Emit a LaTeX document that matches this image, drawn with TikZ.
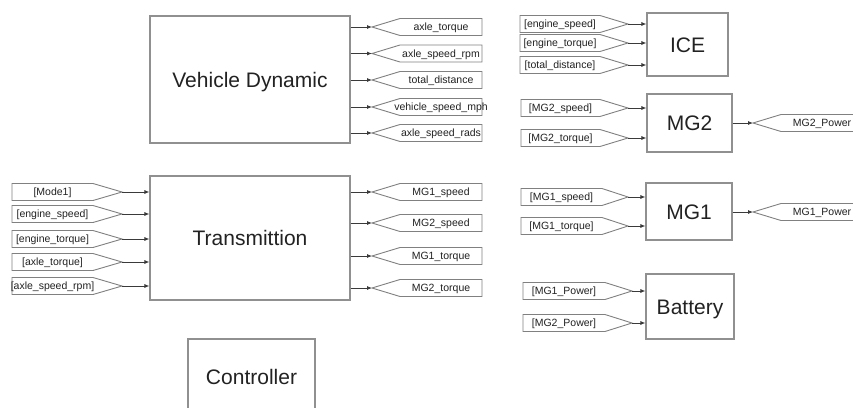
\documentclass[tikz,border=0pt]{standalone}
\usepackage{fontspec}
\setmainfont{Liberation Sans}
\usetikzlibrary{arrows.meta}

\definecolor{boxline}{HTML}{909090}
\definecolor{tagline}{HTML}{808080}
\definecolor{wire}{HTML}{3A3A3A}
\definecolor{ink}{HTML}{222222}

\tikzset{
  block/.style={draw=boxline, line width=1.1pt, fill=white, inner sep=0pt,
    font=\fontsize{21}{25}\selectfont, text=ink, text height=15pt, text depth=0pt},
  tagshape/.style={draw=tagline, line width=0.9pt, fill=white, line join=miter},
  taglabel/.style={inner sep=0pt, font=\fontsize{10.5}{12}\selectfont, text=ink,
    text height=7.5pt, text depth=0pt},
  sig/.style={draw=wire, line width=0.8pt, -{Latex[length=5pt,width=4pt]}},
}

% Goto tag: pointed end on the left at (#3,#4); coordinate #2 marks the tip
\newcommand\gototag[5][110]{%
  \draw[tagshape] (#3,#4) -- ++(28,-8.5) -- (#3+#1,#4-8.5) -- (#3+#1,#4+8.5)
    -- (#3+28,#4+8.5) -- cycle;
  \node[taglabel] (#2-text) at ({#3+28+(#1-28)/2},#4) {#5};
  \coordinate (#2) at (#3,#4);
}
% From tag: box from #2 to #3, pointed end at #4; coordinate #1 marks the tip
\newcommand\fromtag[6]{%
  \draw[tagshape] (#2,#6-8.5) -- (#3,#6-8.5) -- (#4,#6) -- (#3,#6+8.5)
    -- (#2,#6+8.5) -- cycle;
  \node[taglabel] (#1-text) at ({(#2+#3)/2},#6) {#5};
  \coordinate (#1) at (#4,#6);
}

\begin{document}
\begin{tikzpicture}[x=1pt,y=-1pt]
\useasboundingbox (0,0) rectangle (853,407);
\fill[white] (0,0) rectangle (853,407);
\clip (0,0) rectangle (853,407);

% ---------- main blocks ----------
\node[block, minimum width=200pt, minimum height=127pt] (vd) at (250,79.5) {Vehicle Dynamic};
\node[block, minimum width=200pt, minimum height=124pt] (tr) at (250,238) {Transmittion};
\node[block, minimum width=127pt, minimum height=76pt] (ctl) at (251.5,377) {Controller};
\node[block, minimum width=81pt, minimum height=63pt] (ice) at (687.5,44.5) {ICE};
\node[block, minimum width=85pt, minimum height=58pt] (mg2) at (689.5,123) {MG2};
\node[block, minimum width=86pt, minimum height=57pt] (mg1) at (689,211.5) {MG1};
\node[block, minimum width=88pt, minimum height=65pt] (bat) at (690,306.5) {Battery};

% ---------- Vehicle Dynamic outputs ----------
\gototag{g-at}{372}{27}{axle\_torque}
\gototag{g-asr}{372}{53.5}{axle\_speed\_rpm}
\gototag{g-td}{372}{80}{total\_distance}
\gototag{g-vsm}{372}{107}{vehicle\_speed\_mph}
\gototag{g-asd}{372}{133}{axle\_speed\_rads}
\foreach \t in {g-at,g-asr,g-td,g-vsm,g-asd}
  \draw[sig] (vd.east |- \t) -- (\t);

% ---------- Transmittion inputs ----------
\fromtag{f-mode}{12}{93}{122}{[Mode1]}{192}
\fromtag{f-es}{12}{93}{122}{[engine\_speed]}{214}
\fromtag{f-et}{12}{93}{122}{[engine\_torque]}{239}
\fromtag{f-at}{12}{93}{122}{[axle\_torque]}{262}
\fromtag{f-asr}{12}{93}{122}{[axle\_speed\_rpm]}{286}
\foreach \t in {f-mode,f-es,f-et,f-at,f-asr}
  \draw[sig] (\t) -- (tr.west |- \t);

% ---------- Transmittion outputs ----------
\gototag{g-m1s}{372}{192}{MG1\_speed}
\gototag{g-m2s}{372}{223}{MG2\_speed}
\gototag{g-m1t}{372}{256}{MG1\_torque}
\gototag{g-m2t}{372}{288}{MG2\_torque}
\foreach \t in {g-m1s,g-m2s,g-m1t,g-m2t}
  \draw[sig] (tr.east |- \t) -- (\t);

% ---------- ICE ----------
\fromtag{f-ies}{520}{600}{628}{[engine\_speed]}{24}
\fromtag{f-iet}{520}{600}{628}{[engine\_torque]}{43}
\fromtag{f-itd}{520}{600}{628}{[total\_distance]}{65}
\foreach \t in {f-ies,f-iet,f-itd}
  \draw[sig] (\t) -- (ice.west |- \t);

% ---------- MG2 ----------
\fromtag{f-m2s}{521}{600}{628}{[MG2\_speed]}{108}
\fromtag{f-m2t}{521}{600}{628}{[MG2\_torque]}{138}
\foreach \t in {f-m2s,f-m2t}
  \draw[sig] (\t) -- (mg2.west |- \t);
\gototag{g-m2p}{753}{123}{MG2\_Power}
\draw[sig] (mg2.east |- g-m2p) -- (g-m2p);

% ---------- MG1 ----------
\fromtag{f-m1s}{521}{602}{628}{[MG1\_speed]}{197}
\fromtag{f-m1t}{521}{602}{628}{[MG1\_torque]}{226}
\foreach \t in {f-m1s,f-m1t}
  \draw[sig] (\t) -- (mg1.west |- \t);
\gototag{g-m1p}{753}{212}{MG1\_Power}
\draw[sig] (mg1.east |- g-m1p) -- (g-m1p);

% ---------- Battery ----------
\fromtag{f-b1}{523}{605}{632}{[MG1\_Power]}{291}
\fromtag{f-b2}{523}{605}{632}{[MG2\_Power]}{323}
\foreach \t in {f-b1,f-b2}
  \draw[sig] (\t) -- (bat.west |- \t);
\end{tikzpicture}
\end{document}
